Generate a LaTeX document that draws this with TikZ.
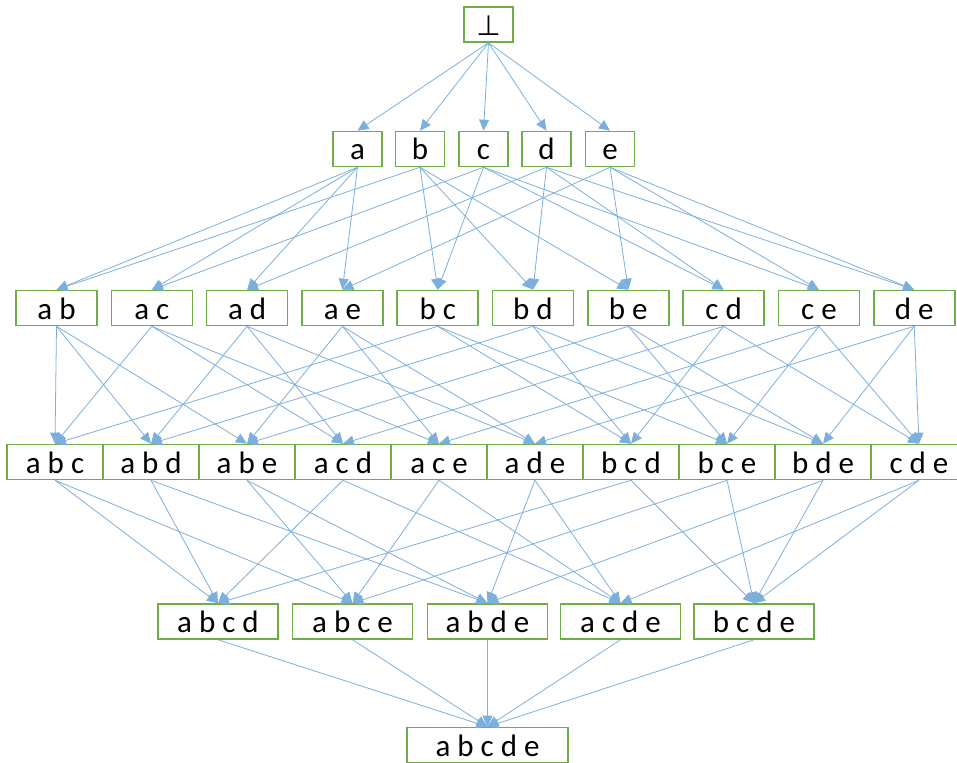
\documentclass[tikz,border=0pt]{standalone}
\usepackage{fontspec}
\setmainfont{Carlito}
\newfontfamily\symfont{DejaVu Sans}
\usetikzlibrary{arrows.meta}
\definecolor{boxgreen}{HTML}{70AD47}
\definecolor{edgeblue}{HTML}{5B9BD5}
\begin{document}
\begin{tikzpicture}[x=1pt,y=-1pt,
 lbox/.style={draw=boxgreen, line width=1.6pt, fill=white, inner sep=0pt,
   minimum height=35pt, font=\fontsize{31}{35}\selectfont, text height=22pt, text depth=0pt},
 edge/.style={draw=edgeblue!80, line width=0.8pt, -{Triangle[length=11pt,width=10pt]}}]
\useasboundingbox (0,0) rectangle (957,762);
% level 0
\node[lbox, minimum width=49pt] (bot) at (488.5,24.5) {{\symfont\fontsize{28}{32}\selectfont ⊥}};
% level 1
\foreach \n/\x in {a/357.5, b/420, c/483.5, d/546.5, e/610}
  \node[lbox, minimum width=49pt] (\n) at (\x,149) {\n};
% level 2
\foreach \n/\t/\i in {ab/a b/0, ac/a c/1, ad/a d/2, ae/a e/3, bc/b c/4, bd/b d/5, be/b e/6, cd/c d/7, ce/c e/8, de/d e/9}
  \node[lbox, minimum width=81pt] (\n) at ({56.5+95.3*\i},308) {\t};
% level 3
\foreach \n/\t/\i in {abc/a b c/0, abd/a b d/1, abe/a b e/2, acd/a c d/3, ace/a c e/4, ade/a d e/5, bcd/b c d/6, bce/b c e/7, bde/b d e/8, cde/c d e/9}
  \node[lbox, minimum width=96pt] (\n) at ({55+96*\i},462) {\t};
% level 4
\foreach \n/\t/\x in {abcd/a b c d/218, abce/a b c e/352.5, abde/a b d e/487.5, acde/a c d e/620.5, bcde/b c d e/754}
  \node[lbox, minimum width=120pt] (\n) at (\x,621.5) {\t};
% level 5
\node[lbox, minimum width=161pt] (abcde) at (487.5,745) {a b c d e};
% edges
\foreach \s/\t in {bot/a, bot/b, bot/c, bot/d, bot/e,
  a/ab, a/ac, a/ad, a/ae, b/ab, b/bc, b/bd, b/be, c/ac, c/bc, c/cd, c/ce, d/ad, d/bd, d/cd, d/de, e/ae, e/be, e/ce, e/de,
  ab/abc, ab/abd, ab/abe, ac/abc, ac/acd, ac/ace, ad/abd, ad/acd, ad/ade, ae/abe, ae/ace, ae/ade,
  bc/abc, bc/bcd, bc/bce, bd/abd, bd/bcd, bd/bde, be/abe, be/bce, be/bde, cd/acd, cd/bcd, cd/cde,
  ce/ace, ce/bce, ce/cde, de/ade, de/bde, de/cde,
  abc/abcd, abc/abce, abd/abcd, abd/abde, abe/abce, abe/abde, acd/abcd, acd/acde, ace/abce, ace/acde,
  ade/abde, ade/acde, bcd/abcd, bcd/bcde, bce/abce, bce/bcde, bde/abde, bde/bcde, cde/acde, cde/bcde,
  abcd/abcde, abce/abcde, abde/abcde, acde/abcde, bcde/abcde}
  \draw[edge] (\s.south) -- (\t.north);
\end{tikzpicture}
\end{document}
